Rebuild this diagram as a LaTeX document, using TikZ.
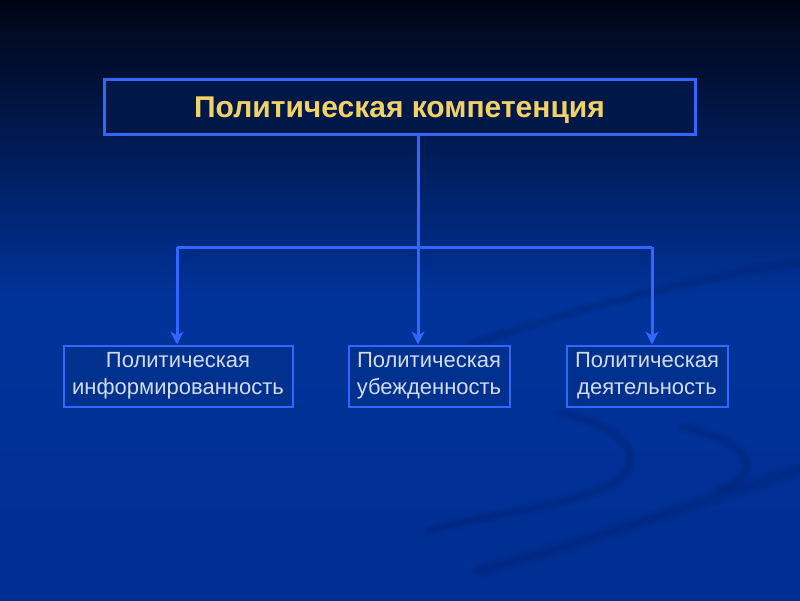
\documentclass[tikz,border=0pt]{standalone}
\usepackage{fontspec}
\setmainfont{Liberation Sans}
\usetikzlibrary{arrows.meta}
\definecolor{linec}{HTML}{3366FF}
\definecolor{titlefill}{HTML}{001848}
\definecolor{titletext}{HTML}{F2D265}
\definecolor{boxfill}{HTML}{00318F}
\definecolor{boxtext}{HTML}{D3DBEA}
\definecolor{bgtop}{HTML}{000514}
\definecolor{bgmid}{HTML}{00339A}
\definecolor{bgbot}{HTML}{002E92}
\definecolor{swoosh}{HTML}{00226E}
\tikzset{
  titlebox/.style={draw=linec, line width=3pt, fill=titlefill, minimum width=591pt, minimum height=55pt, inner sep=0pt},
  subbox/.style={draw=linec, line width=2pt, fill=boxfill, minimum height=61pt, inner sep=0pt, align=center, text=boxtext, font=\fontsize{22}{27}\selectfont},
  conn/.style={draw=linec, line width=3pt},
  arr/.style={conn, -{Stealth[length=13pt,width=13pt,inset=4pt]}},
  band/.style={draw=swoosh, opacity=0.12, line cap=round}
}
\begin{document}
\begin{tikzpicture}[x=1pt,y=-1pt]
\useasboundingbox (0,0) rectangle (800,600);
\shade[top color=bgtop, bottom color=bgbot, middle color=bgmid] (0,0) rectangle (800,600);
% decorative soft dark bands
\foreach \w in {4,8,12}{
\draw[band, line width=\w pt] (470,345) .. controls (600,300) and (720,275) .. (800,262);
\draw[band, line width=\w pt] (560,413) .. controls (640,430) and (650,470) .. (600,490) .. controls (560,505) and (490,515) .. (430,530);
\draw[band, line width=\w pt] (683,427) .. controls (760,445) and (760,475) .. (720,490);
\draw[band, line width=1.3*\w pt] (800,470) .. controls (700,500) and (600,540) .. (480,570);
}
% title
\node[titlebox] (t) at (399.5,107) {};
\node[font=\bfseries\fontsize{30}{34}\selectfont, text=titletext] (tt) at (399.5,110) {Политическая компетенция};
% lower boxes
\node[subbox, minimum width=229pt] (a) at (178,376) {Политическая\\информированность};
\node[subbox, minimum width=161pt] (b) at (429,376) {Политическая\\убежденность};
\node[subbox, minimum width=161pt] (c) at (647,376) {Политическая\\деятельность};
% connectors
\coordinate (jl) at (177,247);
\coordinate (jr) at (652,247);
\coordinate (jm) at (418,135);
\draw[conn] (jl) -- (jr);
\draw[arr] (jm) -- (jm |- b.north);
\draw[arr] (jl) -- (jl |- a.north);
\draw[arr] (jr) -- (jr |- c.north);
\end{tikzpicture}
\end{document}
